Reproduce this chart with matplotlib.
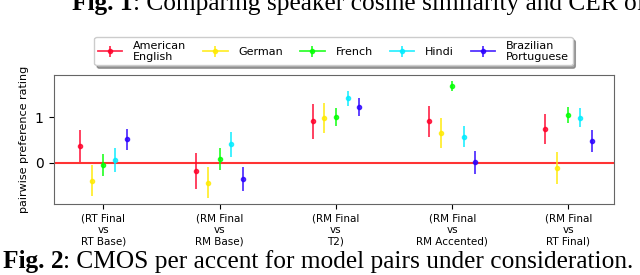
import numpy as np
import matplotlib
matplotlib.use("Agg")
import matplotlib.pyplot as plt

# --- data ---
pairs = ["(RT Final\nvs\nRT Base)", "(RM Final\nvs\nRM Base)", "(RM Final\nvs\nT2)",
         "(RM Final\nvs\nRM Accented)", "(RM Final\nvs\nRT Final)"]
accents = ["American\nEnglish", "German", "French", "Hindi", "Brazilian\nPortuguese"]

# mean rating per accent, one value per model pair
american = [0.36, -0.18, 0.91, 0.91, 0.74]
german = [-0.40, -0.44, 0.99, 0.66, -0.11]
french = [-0.05, 0.08, 1.01, 1.69, 1.04]
hindi = [0.06, 0.40, 1.41, 0.57, 0.99]
brazilian = [0.51, -0.36, 1.23, 0.01, 0.48]

american_err = [0.35, 0.39, 0.38, 0.34, 0.32]
german_err = [0.34, 0.34, 0.33, 0.33, 0.35]
french_err = [0.24, 0.25, 0.20, 0.11, 0.18]
hindi_err = [0.27, 0.27, 0.16, 0.23, 0.20]
brazilian_err = [0.24, 0.26, 0.20, 0.25, 0.24]

means = [american, german, french, hindi, brazilian]
errs = [american_err, german_err, french_err, hindi_err, brazilian_err]


def main() -> None:
    fig = plt.figure(figsize=(6.4, 2.75), dpi=100)
    ax = fig.add_axes([0.0836, 0.258, 0.8754, 0.47])

    x = np.arange(len(pairs))
    colors = plt.cm.gist_rainbow(np.arange(len(accents)) / len(accents))

    ax.axhline(0, color="red", lw=1.5, alpha=0.8, zorder=1)
    # one errorbar call per point, so the legend handle keeps its line
    for i, (name, m, e) in enumerate(zip(accents, means, errs)):
        offset = (i - 2) * 0.1
        for j in range(len(pairs)):
            ax.errorbar(x[j] + offset, m[j], yerr=e[j], fmt="o-", ms=3,
                        color=colors[i], lw=1.3, elinewidth=1.3, capsize=0,
                        alpha=0.8, label=name if j == 0 else None, zorder=2)

    ax.set_xlim(-0.43, 4.39)
    ax.set_ylim(-0.91, 1.93)
    ax.set_yticks([0, 1])
    ax.set_xticks(x)
    ax.set_xticklabels(pairs, fontsize=7.5, linespacing=1.15)
    ax.tick_params(axis="y", labelsize=10)
    ax.set_ylabel("pairwise preference rating", fontsize=8)
    for s in ax.spines.values():
        s.set_color("#666666")

    fig.legend(loc="upper center", bbox_to_anchor=(0.521, 0.885), ncol=5,
               fontsize=8, shadow=True, fancybox=True, handlelength=2.2,
               columnspacing=1.5, borderpad=0.3, handletextpad=1.0)

    # captions from the surrounding page
    serif = "Liberation Serif"
    size = 18.3
    t1 = fig.text(0.113, 0.945, "Fig. 1", fontsize=size, fontweight="bold",
                  family=serif, va="bottom")
    ax.annotate(": Comparing speaker cosine similarity and CER of", xy=(1, 0),
                xycoords=t1, va="bottom", fontsize=size, family=serif,
                annotation_clip=False)
    t2 = fig.text(0.004, 0.006, "Fig. 2", fontsize=size, fontweight="bold",
                  family=serif, va="bottom")
    ax.annotate(": CMOS per accent for model pairs under consideration.",
                xy=(1, 0), xycoords=t2, va="bottom", fontsize=size,
                family=serif, annotation_clip=False)

    fig.savefig("out.png", dpi=100)


if __name__ == "__main__":
    main()
